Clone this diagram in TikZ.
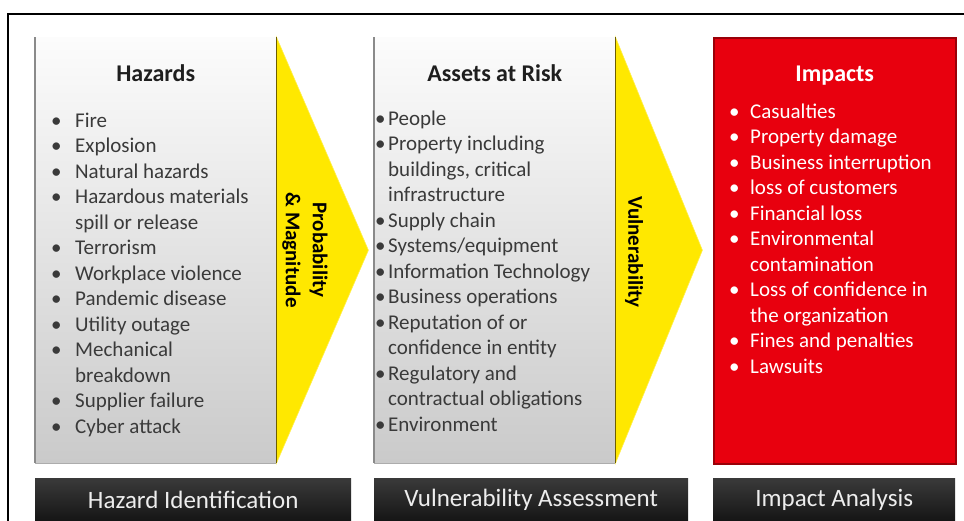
\documentclass[tikz,border=0pt]{standalone}
\usepackage{fontspec}
\setmainfont{Carlito}
\usetikzlibrary{calc}
\definecolor{itemgray}{HTML}{3A3A3A}
\definecolor{titlegray}{HTML}{1E1E1E}
\definecolor{boxtop}{HTML}{FCFCFC}
\definecolor{boxbot}{HTML}{CACACA}
\definecolor{boxedge}{HTML}{8A8A8A}
\definecolor{goldc}{HTML}{CFAA00}
\definecolor{yelc}{HTML}{FFE800}
\definecolor{yellt}{HTML}{FFF24D}
\definecolor{olivec}{HTML}{6E5E00}
\definecolor{redfill}{HTML}{E8000E}
\definecolor{rededge}{HTML}{9A0008}
\definecolor{bartop}{HTML}{3A3A3A}
\definecolor{barbot}{HTML}{141414}
\definecolor{bartext}{HTML}{EDEDED}
\pgfdeclarehorizontalshading{chevshade}{100bp}{color(0bp)=(goldc); color(25bp)=(yelc); color(85bp)=(yelc); color(100bp)=(yellt)}
\newcommand{\bul}[2]{\makebox[#1][l]{•}#2}
\newcommand{\cnt}[2]{\hspace*{#1}#2}
\begin{document}
\begin{tikzpicture}[x=1pt,y=-1pt,
 panel/.style={minimum width=241pt, minimum height=426pt, inner sep=0, anchor=north west},
 graypanel/.style={panel, top color=boxtop, bottom color=boxbot},
 redpanel/.style={panel, fill=redfill, draw=rededge, line width=1.5pt},
 chevron/.style={shading=chevshade, draw=yelc!70!white, line width=0.6pt},
 listtxt/.style={anchor=north west, align=left, inner sep=0, font=\fontsize{21}{25.5}\selectfont},
 titletxt/.style={anchor=base, inner sep=0, font=\fontsize{24}{28}\selectfont\bfseries},
 sidetxt/.style={rotate=-90, align=center, inner sep=0, font=\fontsize{21}{27}\selectfont\bfseries, text=black},
 bar/.style={anchor=north west, minimum height=44pt, inner sep=0, top color=bartop, bottom color=barbot, text=bartext, font=\fontsize{25}{30}\selectfont},
]
\clip (0,0) rectangle (964,520);
\fill[white] (0,0) rectangle (964,520);
\draw[line width=2pt] (8,530) -- (8,14) -- (970,14);

% panels
\node[graypanel] (b1) at (35,37) {};
\node[graypanel] (b2) at (374,37) {};
\node[redpanel, minimum width=242pt] (b3) at (713,37) {};
\foreach \b in {b1,b2}{
  \draw[boxedge, line width=1.2pt] (\b.north west) -- (\b.south west);
  \draw[gray!65, line width=1.5pt] (\b.south west) -- (\b.south east);
}

% chevrons
\coordinate (t1) at ($(b1.east)+(92,0)$);
\coordinate (t2) at ($(b2.east)+(87,0)$);
\path[chevron] (b1.north east) -- (t1) -- (b1.south east) -- cycle;
\path[chevron] (b2.north east) -- (t2) -- (b2.south east) -- cycle;
\draw[olivec, line width=1.5pt] (b1.north east) -- (b1.south east);
\draw[olivec, line width=1.5pt] (b2.north east) -- (b2.south east);
\node[sidetxt] (pm) at (305,250) {Probability\\\& Magnitude};
\node[sidetxt] (vu) at (634,252) {Vulnerability};

% titles
\node[titletxt, text=titlegray] (h1) at (b1.north |- 0,81) {Hazards};
\node[titletxt, text=titlegray] (h2) at (b2.north |- 0,81) {Assets at Risk};
\node[titletxt, text=white] (h3) at (b3.north |- 0,81) {Impacts};

% lists
\node[listtxt, text=itemgray] (l1) at (51,109) {\strut\bul{24pt}{Fire}\\
\bul{24pt}{Explosion}\\
\bul{24pt}{Natural hazards}\\
\bul{24pt}{Hazardous materials}\\
\cnt{24pt}{spill or release}\\
\bul{24pt}{Terrorism}\\
\bul{24pt}{Workplace violence}\\
\bul{24pt}{Pandemic disease}\\
\bul{24pt}{Utility outage}\\
\bul{24pt}{Mechanical}\\
\cnt{24pt}{breakdown}\\
\bul{24pt}{Supplier failure}\\
\bul{24pt}{Cyber attack}};

\node[listtxt, text=itemgray] (l2) at (375,107) {\strut\bul{13pt}{People}\\
\bul{13pt}{Property including}\\
\cnt{13pt}{buildings, critical}\\
\cnt{13pt}{infrastructure}\\
\bul{13pt}{Supply chain}\\
\bul{13pt}{Systems/equipment}\\
\bul{13pt}{Information Technology}\\
\bul{13pt}{Business operations}\\
\bul{13pt}{Reputation of or}\\
\cnt{13pt}{confidence in entity}\\
\bul{13pt}{Regulatory and}\\
\cnt{13pt}{contractual obligations}\\
\bul{13pt}{Environment}};

\node[listtxt, text=white] (l3) at (729,100) {\strut\bul{21pt}{Casualties}\\
\bul{21pt}{Property damage}\\
\bul{21pt}{Business interruption}\\
\bul{21pt}{loss of customers}\\
\bul{21pt}{Financial loss}\\
\bul{21pt}{Environmental}\\
\cnt{21pt}{contamination}\\
\bul{21pt}{Loss of confidence in}\\
\cnt{21pt}{the organization}\\
\bul{21pt}{Fines and penalties}\\
\bul{21pt}{Lawsuits}};

% bottom bars
\node[bar, minimum width=316pt] (s1) at (35,478) {Hazard Identification};
\node[bar, minimum width=314pt] (s2) at (374,478) {Vulnerability Assessment};
\node[bar, minimum width=242pt] (s3) at (713,478) {Impact Analysis};
\end{tikzpicture}
\end{document}
